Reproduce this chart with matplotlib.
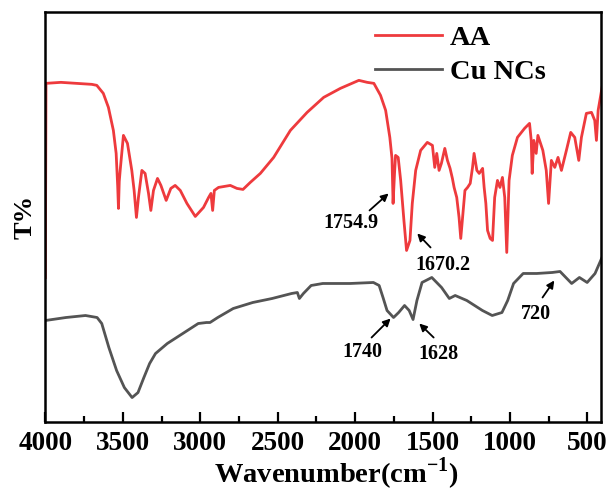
import matplotlib
matplotlib.use("Agg")
import matplotlib.pyplot as plt
from matplotlib.ticker import MultipleLocator

plt.rcParams['font.family'] = ['Liberation Serif', 'DejaVu Serif']
plt.rcParams['font.weight'] = 'bold'
plt.rcParams['mathtext.fontset'] = 'custom'
plt.rcParams['mathtext.rm'] = 'Liberation Serif:bold'
plt.rcParams['mathtext.bf'] = 'Liberation Serif:bold'

# FTIR spectra (transmittance in arbitrary units)
aa_wn = [4000, 3996, 3900, 3800, 3700, 3668, 3626, 3593, 3561, 3543, 3533, 3528, 3523, 3517,
         3496, 3470, 3442, 3427, 3412, 3399, 3377, 3356, 3334, 3319, 3302, 3276, 3254, 3220,
         3190, 3162, 3129, 3086, 3032, 2979, 2946, 2931, 2920, 2909, 2882, 2806, 2763, 2724,
         2677, 2612, 2526, 2418, 2310, 2203, 2095, 1976, 1922, 1879, 1836, 1803, 1776, 1762,
         1755, 1745, 1739, 1722, 1706, 1685, 1668, 1646, 1631, 1609,
         1577, 1534, 1501, 1486, 1473, 1458, 1443, 1421, 1404, 1387, 1372, 1361, 1344, 1329,
         1318, 1306, 1291, 1274, 1257, 1242, 1232, 1214, 1199, 1177, 1167, 1156, 1145, 1128,
         1113, 1099, 1081, 1065, 1049, 1034, 1021, 1006, 985, 952, 906, 874, 863, 857, 846,
         831, 820, 799, 788, 766, 751, 733, 711, 690, 668, 636, 608, 582,
         556, 539, 507, 474, 453, 442, 431, 400]
aa_t = [144, 338, 339, 338, 337, 336, 328, 314, 291, 268, 235, 213, 240, 251,
        286, 278, 251, 231, 204, 224, 251, 248, 228, 211, 231, 243, 236, 221,
        233, 236, 231, 218, 205, 214, 224, 228, 211, 231, 234, 236, 233, 232,
        239, 248, 264, 291, 309, 324, 333, 341, 339, 338, 326, 311, 284, 263,
        218, 250, 266, 264, 241, 201, 171, 181, 218, 251,
        271, 279, 276, 254, 268, 251, 258, 273, 261, 253, 243, 234, 224, 204,
        183, 204, 231, 234, 238, 254, 268, 251, 248, 253, 234, 218, 191, 183,
        181, 224, 241, 234, 244, 224, 169, 241, 266, 284, 293, 298, 281, 248, 281,
        268, 286, 276, 271, 251, 218, 261, 254, 264, 251, 271, 289, 284,
        261, 284, 308, 309, 301, 281, 311, 339]

cu_wn = [4000, 3867, 3741, 3666, 3636, 3590, 3540, 3490, 3440, 3402, 3364, 3327, 3289, 3213,
         3113, 3013, 2960, 2937, 2887, 2787, 2661, 2536, 2410, 2373, 2360, 2334, 2284, 2209,
         2033, 1882, 1845, 1820, 1794, 1752, 1719, 1681, 1651, 1626, 1601, 1568, 1505, 1442,
         1392, 1354, 1279, 1178, 1115, 1052, 1015, 977, 915, 827, 727, 677, 602, 552, 502,
         451, 406]
cu_t = [101, 104, 106, 104, 98, 74, 51, 34, 24, 29, 44, 58, 68, 78,
        88, 98, 99, 99, 104, 113, 119, 123, 128, 129, 123, 128, 136, 138,
        138, 139, 136, 124, 111, 104, 109, 116, 111, 102, 121, 139, 144, 134,
        123, 126, 121, 111, 106, 109, 121, 138, 148, 148, 149, 150, 138, 144, 139,
        148, 164]

series_labels = ['AA', 'Cu NCs']
series_colors = ['#EE3A3D', '#545454']

# peak labels: text, arrow head (wn, T), arrow tail (wn, T), text centre (wn, T)
peak_text = ['1754.9', '1670.2', '1740', '1628', '720']
peak_head = [(1784, 228), (1599, 188), (1771, 103), (1586, 98), (714, 141)]
peak_tail = [(1907, 211), (1513, 174), (1894, 84), (1493, 84), (790, 124)]
peak_pos = [(2030, 198), (1435, 156), (1953, 70), (1461, 68), (833, 108)]

fig = plt.figure(figsize=(6.09, 4.94), dpi=100)
ax = fig.add_axes([0.0745, 0.1466, 0.9125, 0.8285])

ax.plot(aa_wn, aa_t, color=series_colors[0], lw=2.0, label=series_labels[0])
ax.plot(cu_wn, cu_t, color=series_colors[1], lw=2.0, label=series_labels[1])

for txt, head, tail, pos in zip(peak_text, peak_head, peak_tail, peak_pos):
    ax.annotate('', xy=head, xytext=tail,
                arrowprops=dict(arrowstyle='-|>', color='black', lw=1.3,
                                mutation_scale=11, shrinkA=0, shrinkB=0))
    ax.text(pos[0], pos[1], txt, fontsize=14.5, fontweight='bold',
            ha='center', va='center')

ax.set_xlim(4000, 412)
ax.set_ylim(0, 409)
ax.xaxis.set_major_locator(MultipleLocator(500))
ax.xaxis.set_minor_locator(MultipleLocator(250))
ax.tick_params(axis='x', which='major', direction='in', length=7, width=1.6,
               labelsize=19.5, pad=7, top=False)
ax.tick_params(axis='x', which='minor', direction='in', length=4, width=1.6, top=False)
ax.set_yticks([])
for s in ax.spines.values():
    s.set_linewidth(1.8)

ax.set_xlabel(r'Wavenumber(cm$^{-1}$)', fontsize=20.5, fontweight='bold')
ax.xaxis.set_label_coords(0.524, -0.083)
ax.set_ylabel('T%', fontsize=19, fontweight='bold', labelpad=6)

leg = ax.legend(loc='upper left', bbox_to_anchor=(0.593, 0.970), frameon=False,
                fontsize=20.5, handlelength=2.35, handletextpad=0.28,
                labelspacing=0.30, borderpad=0, borderaxespad=0)

fig.savefig('out.png', dpi=100, facecolor='white')
